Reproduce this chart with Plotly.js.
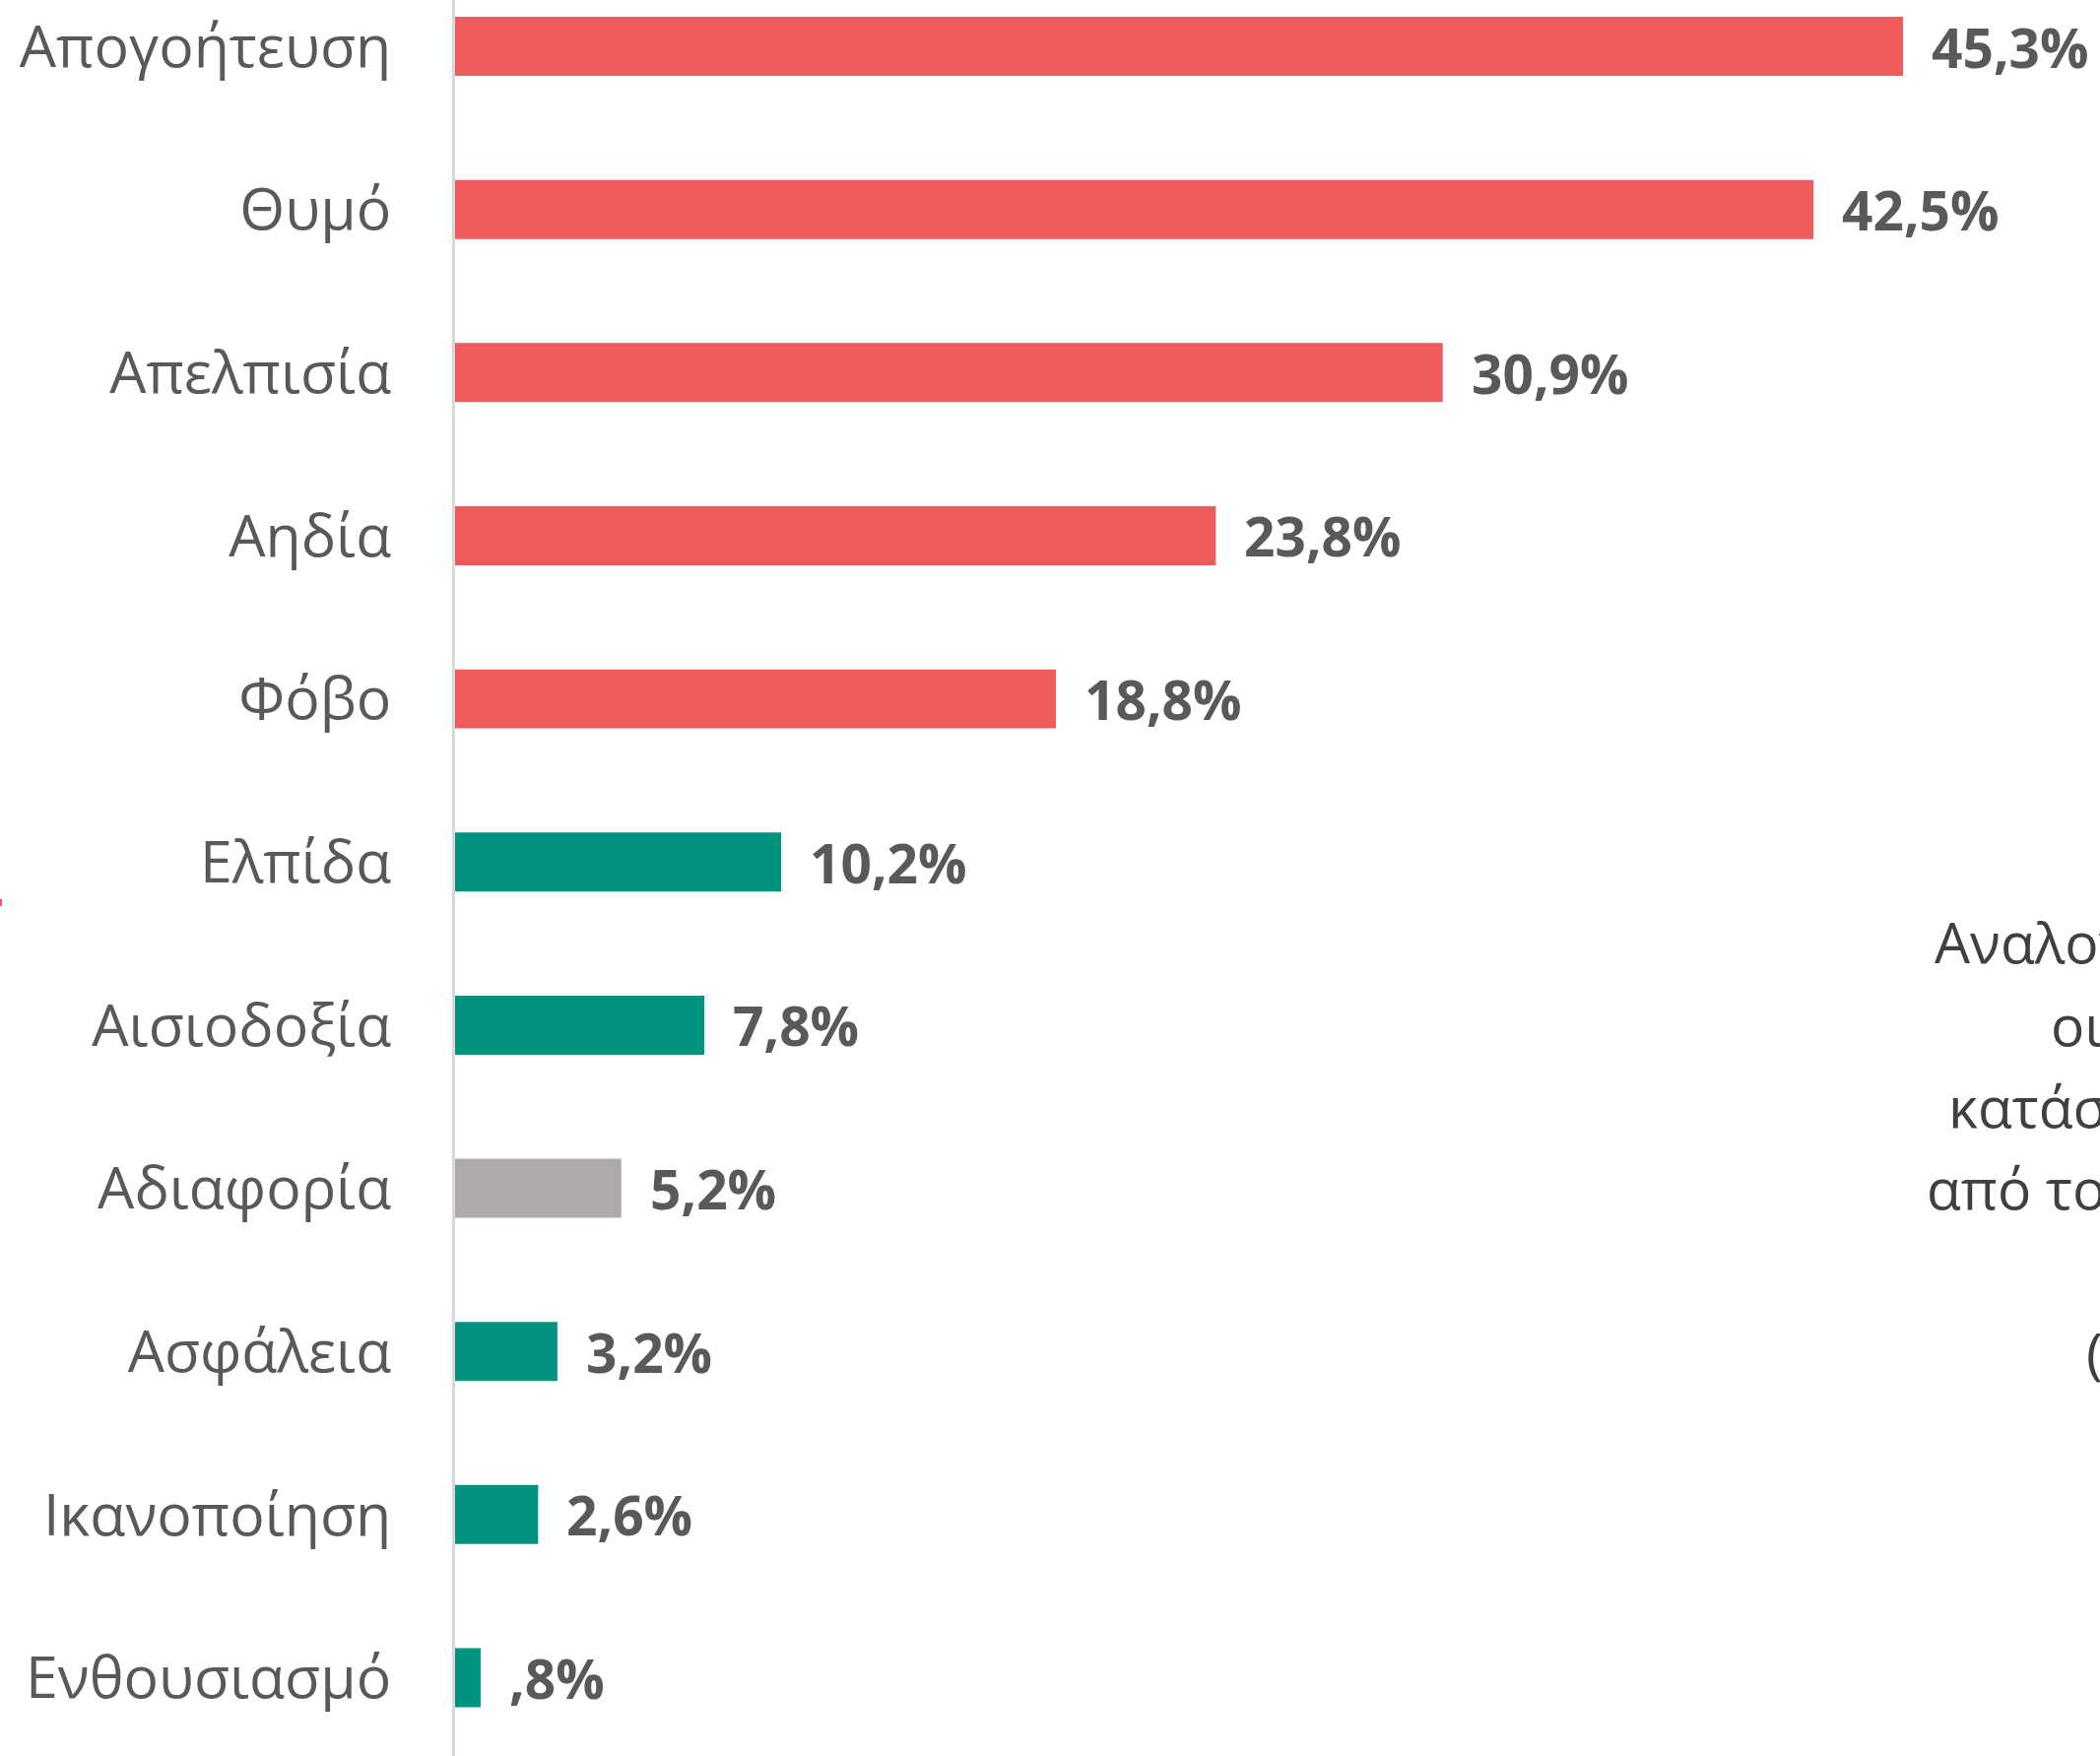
<!DOCTYPE html>
<html>
<head>
<meta charset="utf-8">
<script src="https://cdn.plot.ly/plotly-3.0.1.min.js"></script>
<style>html,body{margin:0;padding:0;background:#fff;}#chart{width:2132px;height:1783px;}</style>
</head>
<body>
<div id="chart"></div>
<script>
// ---- data ----
const categories = ['Απογοήτευση','Θυμό','Απελπισία','Αηδία','Φόβο','Ελπίδα','Αισιοδοξία','Αδιαφορία','Ασφάλεια','Ικανοποίηση','Ενθουσιασμό'];
const values = [45.3, 42.5, 30.9, 23.8, 18.8, 10.2, 7.8, 5.2, 3.2, 2.6, 0.8];
const valueLabels = ['45,3%','42,5%','30,9%','23,8%','18,8%','10,2%','7,8%','5,2%','3,2%','2,6%',',8%'];
const groups = ['neg','neg','neg','neg','neg','pos','pos','neutral','pos','pos','pos'];
const sideTextLines = ['Αναλογικά', 'οι', 'κατάσταση', 'από το', '('];

// ---- styling ----
const W = 2132, H = 1783, L = 462;
const groupColors = {neg:'#EF5B5B', pos:'#009480', neutral:'#AEAAAA'};
const colors = groups.map(g => groupColors[g]);

const trace = {
  type:'bar', orientation:'h',
  x: values, y: categories,
  marker:{color: colors},
  hoverinfo:'none'
};

const annotations = values.map((v,i)=>({
  x: v, y: categories[i], xref:'x', yref:'y',
  text: valueLabels[i], showarrow:false,
  xanchor:'left', yanchor:'middle', xshift: 27,
  font:{family:'Open Sans', size:55, color:'#595959', weight:700}
}));

const sidePos = [[1962,956],[2080,1040],[1976,1123],[1954,1206],[2116,1373]];
sideTextLines.forEach((t,i)=>{
  annotations.push({
    xref:'paper', yref:'paper',
    x:(sidePos[i][0]-L)/(W-L), y:1-sidePos[i][1]/H,
    text:t, showarrow:false, xanchor:'left', yanchor:'middle',
    font:{family:'Open Sans', size:57, color:'#404040'}
  });
});

const layout = {
  width: W, height: H,
  margin:{l:L, r:0, t:0, b:0, pad:0},
  paper_bgcolor:'#fff', plot_bgcolor:'#fff',
  showlegend:false,
  bargap: 0.638,
  xaxis:{range:[0, (W-L)/32.45], visible:false, fixedrange:true},
  yaxis:{
    type:'category', range:[10.48, -0.284],
    showline:true, linecolor:'#d9d9d9', linewidth:3,
    showgrid:false, zeroline:false, ticks:'',
    ticklabelstandoff: 50,
    tickfont:{family:'Open Sans', size:59, color:'#595959'}
  },
  annotations: annotations,
  shapes:[{type:'rect', xref:'paper', yref:'paper',
    x0:(0-L)/(W-L), x1:(2-L)/(W-L), y0:1-920/H, y1:1-913/H,
    fillcolor:'#EF5B5B', line:{width:0}}]
};

Plotly.newPlot('chart', [trace], layout, {staticPlot:true, displayModeBar:false});
</script>
</body>
</html>
